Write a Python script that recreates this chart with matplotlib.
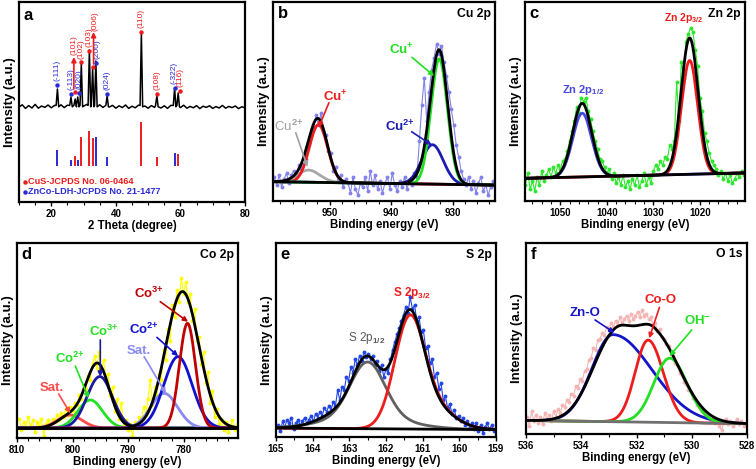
import numpy as np
import matplotlib
matplotlib.use('Agg')
import matplotlib.pyplot as plt
from matplotlib.ticker import MultipleLocator

plt.rcParams['font.family'] = ['Liberation Sans', 'DejaVu Sans']
plt.rcParams['font.weight'] = 'bold'
plt.rcParams['mathtext.fontset'] = 'custom'
plt.rcParams['mathtext.rm'] = 'Liberation Sans'
plt.rcParams['mathtext.bf'] = 'Liberation Sans:bold'
plt.rcParams['mathtext.it'] = 'Liberation Sans:italic'
plt.rcParams['mathtext.default'] = 'bf'

# ---------------- panel a : XRD ----------------
xrd_base_x = list(range(10, 81))
xrd_base_y = [47.5, 48.6, 46.8, 48.2, 47.0, 48.8, 46.9, 48.0, 47.3, 48.5, 47.1, 48.3, 47.4, 48.6, 47.2,
              48.4, 47.6, 48.9, 48.2, 48.7, 47.9, 48.8, 48.4, 48.9, 48.0, 48.6, 47.3, 48.2, 47.5, 48.3,
              46.9, 48.1, 47.2, 48.5, 46.8, 47.9, 47.1, 48.4, 47.6, 48.0, 46.9, 48.2, 47.3, 48.6, 47.0,
              48.1, 46.8, 48.3, 47.9, 48.5, 47.2, 48.4, 46.9, 47.8, 47.1, 48.2, 46.7, 47.9, 47.3, 48.1,
              46.8, 47.7, 47.0, 48.3, 46.9, 47.8, 47.2, 48.0, 46.7, 47.6, 47.1]
xrd_peak_pos = [21.9, 26.1, 27.4, 28.2, 29.3, 31.8, 32.8, 33.8, 37.3, 47.9, 52.7, 58.2, 59.3]
xrd_peak_top = [56.5, 52.5, 51.5, 52.5, 69.0, 76.0, 67.0, 70.5, 53.0, 84.5, 53.0, 57.0, 54.5]
hkl_labels = ['(-111)', '(-113)', '(101)', '(020)', '(102)', '(103)', '(006)', '(200)', '(024)',
              '(110)', '(108)', '(-322)', '(116)']
hkl_phase = ['LDH', 'LDH', 'CuS', 'LDH', 'CuS', 'CuS', 'CuS', 'LDH', 'LDH', 'CuS', 'CuS', 'LDH', 'CuS']
hkl_dot_x = [21.9, 26.1, 27.2, 28.45, 29.2, 31.8, 32.8, 33.95, 37.3, 47.85, 52.6, 58.2, 59.9]
hkl_dot_y = [58.5, 54.0, 55.2, 54.7, 69.8, 75.7, 67.7, 69.7, 54.0, 85.2, 53.8, 57.2, 55.7]
hkl_text_x = [21.9, 26.0, 26.9, 28.5, 29.3, 31.7, 33.4, 34.3, 37.3, 47.85, 52.7, 58.1, 60.0]
hkl_text_y = [60.5, 56.0, 73.5, 56.5, 71.5, 77.5, 85.5, 71.5, 56.0, 87.0, 56.0, 59.0, 57.5]
cus_pos = [27.4, 29.3, 31.8, 32.8, 47.9, 52.7, 59.3]
cus_int = [23.0, 32.7, 35.5, 31.8, 40.2, 22.4, 24.0]
ldh_pos = [21.9, 26.1, 28.2, 33.8, 37.3, 58.2]
ldh_int = [26.0, 21.0, 21.0, 32.7, 22.7, 24.7]
stick_base = 18.2
legend_labels = ['CuS-JCPDS No. 06-0464', 'ZnCo-LDH-JCPDS No. 21-1477']

# ---------------- panel b : Cu 2p ----------------
b_data_start, b_data_step = 959.0, 0.4
b_data_y = [12, 8, 13, 7, 11, 14, 9, 13, 15, 12,
            18, 16, 23, 21, 29, 33, 37, 43, 38, 44,
            35, 33, 25, 24, 15, 17, 10, 13, 7, 11,
            9, 4, 12, 6, 3, 9, 7, 12, 5, 15,
            8, 13, 6, 10, 4, 9, 12, 6, 14, 8,
            5, 10, 7, 12, 6, 11, 8, 14, 12, 30,
            48, 62, 40, 55, 66, 72, 79, 74, 78, 70,
            63, 55, 46, 38, 28, 22, 15, 11, 8, 12,
            6, 10, 4, 9, 12, 5, 8, 3, 7, 10]
b_bg_x, b_bg_y = [923.1, 959.2], [8.0, 9.7]
b_env = [(951.8, 29, 3.5, 3.5), (953.6, 5, 4.3, 4.3), (932.1, 60, 3.2, 3.2), (933.4, 10, 4.0, 4.0)]
b_cu2_sat = [(953.4, 6.1, 4.3, 4.3)]
b_cu1_half = [(951.8, 29, 3.5, 3.5)]
b_cu2_main = [(933.26, 19.8, 4.1, 4.1)]
b_cu1_main = [(932.17, 63, 3.15, 3.15)]

# ---------------- panel c : Zn 2p ----------------
c_data_start, c_data_step = 1057.5, 0.5
c_data_y = [8, 14, 6, 10, 5, 12, 8, 15, 10, 13,
            16, 12, 17, 14, 18, 16, 20, 21, 25, 30,
            35, 40, 47, 44, 52, 50, 52, 45, 41, 35,
            30, 26, 21, 20, 17, 14, 16, 11, 14, 9,
            12, 8, 13, 7, 10, 6, 11, 8, 13, 7,
            10, 14, 8, 12, 9, 15, 18, 16, 20, 18,
            22, 21, 28, 26, 30, 60, 40, 70, 62, 80,
            84, 87, 85, 76, 68, 52, 45, 34, 30, 24,
            20, 18, 16, 13, 15, 11, 14, 10, 13, 9,
            11, 14, 12, 15, 13]
c_bg_x, c_bg_y = [1010.3, 1057.6], [14.1, 11.4]
c_env = [(1045.3, 37, 4.8, 4.8), (1022.2, 68.5, 4.3, 4.3)]
c_zn_half = [(1045.3, 32, 4.8, 4.8)]
c_zn_main = [(1022.2, 57.2, 4.1, 4.1)]

# ---------------- panel d : Co 2p ----------------
d_data_start, d_data_step = 809.6, 0.4
d_data_y = [10, 4, 8, 5, 11, 6, 9, 3, 8, 6,
            10, 1, 7, 9, 5, 10, 8, 12, 9, 13,
            11, 15, 12, 16, 14, 18, 17, 22, 20, 27,
            25, 32, 30, 38, 42, 36, 44, 35, 40, 30,
            33, 22, 26, 14, 20, 10, 18, 6, 9, 4,
            7, 1, 8, 5, 11, 9, 16, 12, 20, 30,
            17, 26, 22, 33, 30, 45, 40, 56, 50, 68,
            62, 76, 70, 82, 74, 80, 70, 74, 60, 66,
            50, 52, 38, 44, 28, 34, 18, 24, 11, 15,
            7, 10, 4, 8, 3, 6, 9, 4, 7]
d_bg_x, d_bg_y = [770.0, 810.0], [5.1, 5.1]
d_env = [(780.2, 70, 7.0, 7.0), (795.5, 33, 5.0, 5.0), (800.5, 6, 5.0, 5.0)]
d_co3_main = [(779.3, 53.7, 3.4, 3.4)]
d_co2_main = [(781.0, 36.6, 6.0, 6.0)]
d_sat_main = [(783.5, 17.8, 5.7, 5.7)]
d_co3_half = [(795.1, 26.4, 5.4, 5.4)]
d_co2_half = [(796.8, 14.4, 5.2, 5.2)]
d_sat_half = [(800.5, 6.7, 5.2, 5.2)]

# ---------------- panel e : S 2p ----------------
e_data_start, e_data_step = 164.94, 0.06
e_data_y = [6, 3, 8, 5, 9, 7, 10, 4, 7, 9,
            6, 8, 10, 7, 9, 11, 8, 12, 10, 13,
            11, 15, 13, 16, 14, 18, 16, 24, 19, 26,
            24, 31, 29, 36, 33, 40, 37, 42, 39, 44,
            41, 43, 40, 42, 37, 39, 34, 37, 31, 35,
            33, 40, 45, 49, 53, 56, 60, 63, 67, 64,
            72, 66, 68, 60, 62, 54, 55, 46, 47, 38,
            40, 31, 33, 25, 28, 19, 21, 15, 17, 12,
            14, 10, 11, 8, 10, 6, 8, 5, 7, 4,
            7, 3, 6, 2, 5, 7, 4, 6, 3]
e_bg_x, e_bg_y = [159.0, 165.0], [3.8, 4.6]
e_env = [(161.37, 53, 0.9, 0.9), (160.8, 12, 1.4, 1.4), (162.5, 29, 0.9, 0.9), (163.0, 10, 1.6, 1.6)]
e_s32 = [(161.37, 51, 0.95, 0.95), (160.8, 12, 1.4, 1.4)]
e_s12 = [(162.5, 28, 1.1, 1.1), (162.55, 6.4, 2.5, 2.5)]

# ---------------- panel f : O 1s ----------------
f_data_start, f_data_step = 535.96, 0.08
f_data_y = [9, 4, 12, 7, 10, 6, 9, 5, 11, 8,
            10, 7, 12, 9, 13, 11, 15, 14, 18, 17,
            21, 20, 25, 24, 29, 28, 33, 34, 39, 40,
            45, 44, 49, 50, 53, 52, 56, 55, 58, 56,
            59, 57, 61, 58, 60, 62, 59, 63, 60, 62,
            64, 61, 65, 62, 63, 60, 61, 57, 58, 54,
            55, 51, 50, 47, 46, 42, 41, 37, 36, 32,
            31, 27, 26, 23, 22, 19, 18, 15, 14, 12,
            11, 9, 10, 7, 8, 6, 7, 4, 2, 6,
            8, 5, 7, 4, 6, 8, 5, 7, 4, 6]
f_bg_x, f_bg_y = [528.0, 536.0], [5.4, 7.1]
f_env = [(532.8, 44, 1.9, 1.6), (531.35, 45, 1.6, 2.2)]
f_zno = [(532.85, 45.6, 1.8, 3.3)]
f_coo = [(531.58, 43, 1.1, 1.3)]
f_oh = [(530.8, 33.7, 1.35, 1.5)]


def peak_sum(x, peaks):
    y = np.zeros_like(x)
    for c, h, whi, wlo in peaks:
        w = np.where(x >= c, whi, wlo)
        y = y + h * np.exp(-4 * np.log(2) * ((x - c) / w) ** 2)
    return y


fig = plt.figure(figsize=(7.56, 4.69), dpi=100)


def make_ax(l, t, r, b, xlim, major, minor, xlabel):
    ax = fig.add_axes([l / 756, 1 - b / 469, (r - l) / 756, (b - t) / 469])
    for s in ax.spines.values():
        s.set_linewidth(1.6)
    ax.set_xlim(*xlim)
    ax.set_ylim(0, 100)
    ax.set_yticks([])
    ax.xaxis.set_major_locator(MultipleLocator(major))
    ax.xaxis.set_minor_locator(MultipleLocator(minor))
    ax.tick_params(axis='x', which='major', direction='out', length=3, width=1,
                   labelsize=7, pad=2)
    ax.tick_params(axis='x', which='minor', direction='out', length=2, width=0.8)
    ax.ticklabel_format(axis='x', useOffset=False)
    ax.set_xlabel(xlabel, fontsize=8.3, fontweight='bold', labelpad=1)
    ax.set_ylabel('Intensity (a.u.)', fontsize=9.5, fontweight='bold', labelpad=2)
    return ax


def draw_xps(ax, xlim, bg_x, bg_y, d_start, d_step, d_y, d_color, comps, env, bg_color='black'):
    xs = np.linspace(min(xlim), max(xlim), 900)
    base = np.interp(xs, bg_x, bg_y)
    dx = d_start - d_step * np.arange(len(d_y))
    ax.plot(dx, d_y, '-o', color=d_color, ms=2.8, lw=0.8, mec='none', zorder=1)
    for peaks, col in comps:
        ax.plot(xs, base + peak_sum(xs, peaks), color=col, lw=2.0, zorder=2)
    ax.plot(xs, base + peak_sum(xs, env), color='black', lw=2.0, zorder=4)
    ax.plot(xs, base, color=bg_color, lw=2.0, zorder=3)


def arrow(ax, start, end, col):
    ax.annotate('', xy=end, xytext=start,
                arrowprops=dict(arrowstyle='-|>', color=col, lw=1.2, mutation_scale=7,
                                shrinkA=0, shrinkB=0), zorder=6)


def panel_tag(ax, letter, title):
    ax.text(0.02, 0.94, letter, transform=ax.transAxes, fontsize=12, fontweight='bold',
            ha='left', va='center')
    ax.text(0.98, 0.94, title, transform=ax.transAxes, fontsize=8.8, fontweight='bold',
            ha='right', va='center')


RED = '#ee1c1c'
BLUE = '#2a2ad8'
GREEN = '#22e022'

# ----- a -----
ax = make_ax(19, 2, 245, 202, (10, 80), 20, 5, '2 Theta (degree)')
pts = []
for x, y in zip(xrd_base_x, xrd_base_y):
    if min(abs(x - p) for p in xrd_peak_pos) > 0.45:
        pts.append((x, y))
for p, t in zip(xrd_peak_pos, xrd_peak_top):
    pts.append((p - 0.4, 48.3))
    pts.append((p, t))
    pts.append((p + 0.4, 47.6))
pts.sort()
ax.plot([q[0] for q in pts], [q[1] for q in pts], color='black', lw=1.1)
ax.vlines(cus_pos, stick_base, cus_int, colors=RED, lw=1.4)
ax.vlines(ldh_pos, stick_base, ldh_int, colors=BLUE, lw=1.4)
for i, lab in enumerate(hkl_labels):
    col = RED if hkl_phase[i] == 'CuS' else BLUE
    ax.plot(hkl_dot_x[i], hkl_dot_y[i], 'o', color=col, ms=3.2, mec='none', zorder=5)
    ax.text(hkl_text_x[i], hkl_text_y[i], lab, rotation=90, color=col, fontsize=6,
            fontweight='normal', ha='center', va='bottom')
arrow(ax, (27.0, 56.5), (27.0, 72.5), RED)
arrow(ax, (33.1, 69.0), (33.1, 85.0), RED)
ax.plot(11.9, 10.2, 'o', color=RED, ms=3.2, mec='none')
ax.plot(11.9, 5.2, 'o', color=BLUE, ms=3.2, mec='none')
ax.text(12.9, 10.2, legend_labels[0], color=RED, fontsize=6.6, ha='left', va='center')
ax.text(12.9, 5.2, legend_labels[1], color=BLUE, fontsize=6.6, ha='left', va='center')
ax.text(0.02, 0.935, 'a', transform=ax.transAxes, fontsize=12, fontweight='bold',
        ha='left', va='center')

# ----- b -----
ax = make_ax(273, 2, 495, 201, (959.2, 923.1), 10, 2, 'Binding energy (eV)')
draw_xps(ax, (959.2, 923.1), b_bg_x, b_bg_y, b_data_start, b_data_step, b_data_y, '#8282ea',
         [(b_cu2_sat, '#a8a8a8'), (b_cu1_half, RED), (b_cu2_main, '#1c1cb4'), (b_cu1_main, GREEN)],
         b_env)
panel_tag(ax, 'b', 'Cu 2p')
ax.text(938.3, 75.9, r'Cu$^{{+}}$', color=GREEN, fontsize=9.5, ha='center', va='center')
arrow(ax, (936.6, 72.2), (933.0, 62.8), GREEN)
ax.text(938.55, 37.3, r'Cu$^{2{+}}$', color='#1c1cb4', fontsize=9.5, ha='center', va='center')
arrow(ax, (936.65, 34.8), (933.4, 28.1), '#1c1cb4')
ax.text(949.1, 52.4, r'Cu$^{{+}}$', color=RED, fontsize=9.5, ha='center', va='center')
arrow(ax, (950.1, 49.4), (951.8, 36.8), RED)
ax.text(956.7, 37.3, r'Cu$^{\mathrm{2{+}}}$', color='#a0a0a0', fontsize=9.5, fontweight='normal',
        ha='center', va='center')
arrow(ax, (955.5, 34.3), (953.6, 17.2), '#a0a0a0')

# ----- c -----
ax = make_ax(525, 2, 745, 201, (1057.6, 1010.3), 10, 2, 'Binding energy (eV)')
draw_xps(ax, (1057.6, 1010.3), c_bg_x, c_bg_y, c_data_start, c_data_step, c_data_y, '#2ee62e',
         [(c_zn_half, '#4646e0'), (c_zn_main, RED)], c_env)
panel_tag(ax, 'c', 'Zn 2p')
ax.text(1023.4, 92.0, r'Zn 2p$_{3/2}$', color=RED, fontsize=7.5, ha='center', va='center')
ax.text(1045.05, 55.6, r'Zn 2p$_{1/2}$', color='#4646e0', fontsize=8, ha='center', va='center')

# ----- d -----
ax = make_ax(17, 243, 238, 438, (810, 770.2), 10, 2, 'Binding energy (eV)')
NAVY = '#1a1aa0'
draw_xps(ax, (810, 770.2), d_bg_x, d_bg_y, d_data_start, d_data_step, d_data_y, '#ffff00',
         [(d_sat_half, '#ff4a4a'), (d_co2_half, GREEN), (d_co3_half, NAVY),
          (d_sat_main, '#8a8af0'), (d_co2_main, '#1010d0'), (d_co3_main, '#c00000')], d_env)
panel_tag(ax, 'd', 'Co 2p')
ax.text(786.2, 74.2, r'Co$^{3{+}}$', color='#c00000', fontsize=9.5, ha='center', va='center')
arrow(ax, (784.2, 69.9), (779.2, 59.6), '#c00000')
ax.text(787.1, 55.7, r'Co$^{2{+}}$', color='#1010d0', fontsize=9.5, ha='center', va='center')
arrow(ax, (784.8, 51.6), (781.0, 42.0), '#1010d0')
ax.text(788.0, 44.8, 'Sat.', color='#8a8af0', fontsize=9.5, ha='center', va='center')
arrow(ax, (787.1, 41.7), (783.2, 22.9), '#8a8af0')
ax.text(794.25, 54.5, r'Co$^{3{+}}$', color=GREEN, fontsize=9.5, ha='center', va='center')
arrow(ax, (795.0, 50.3), (795.0, 31.4), NAVY)
ax.text(800.4, 40.9, r'Co$^{2{+}}$', color=GREEN, fontsize=9.5, ha='center', va='center')
arrow(ax, (799.5, 36.9), (797.1, 20.4), GREEN)
ax.text(803.7, 25.5, 'Sat.', color='#ff4a4a', fontsize=9.5, ha='center', va='center')
arrow(ax, (802.5, 22.6), (800.4, 12.7), '#ff4a4a')

# ----- e -----
ax = make_ax(276, 243, 496, 437, (165, 159), 1, 0.5, 'Binding energy (eV)')
draw_xps(ax, (165, 159), e_bg_x, e_bg_y, e_data_start, e_data_step, e_data_y, '#2246e6',
         [(e_s12, '#606060'), (e_s32, RED)], e_env)
panel_tag(ax, 'e', 'S 2p')
ax.text(161.3, 74.4, r'S 2p$_{3/2}$', color=RED, fontsize=8.5, ha='center', va='center')
ax.text(162.53, 50.9, r'S 2p$_{\mathrm{1/2}}$', color='#5a5a5a', fontsize=8.5, fontweight='normal',
        ha='center', va='center')

# ----- f -----
ax = make_ax(526, 243, 747, 434, (536, 528), 2, 1, 'Binding energy (eV)')
draw_xps(ax, (536, 528), f_bg_x, f_bg_y, f_data_start, f_data_step, f_data_y, '#f4b4b4',
         [(f_zno, '#1515c8'), (f_coo, RED), (f_oh, GREEN)], f_env, bg_color='#707070')
panel_tag(ax, 'f', 'O 1s')
ax.text(533.86, 63.5, 'Zn-O', color='#1515c8', fontsize=9.5, ha='center', va='center')
arrow(ax, (533.5, 59.7), (532.8, 53.0), '#1515c8')
ax.text(531.12, 70.2, 'Co-O', color=RED, fontsize=9.5, ha='center', va='center')
arrow(ax, (531.17, 66.3), (531.54, 50.1), RED)
ax.text(529.8, 58.8, r'OH$^{{-}}$', color=GREEN, fontsize=9.5, ha='center', va='center')
arrow(ax, (530.0, 54.5), (530.8, 40.8), GREEN)

fig.savefig('out.png', dpi=100)
